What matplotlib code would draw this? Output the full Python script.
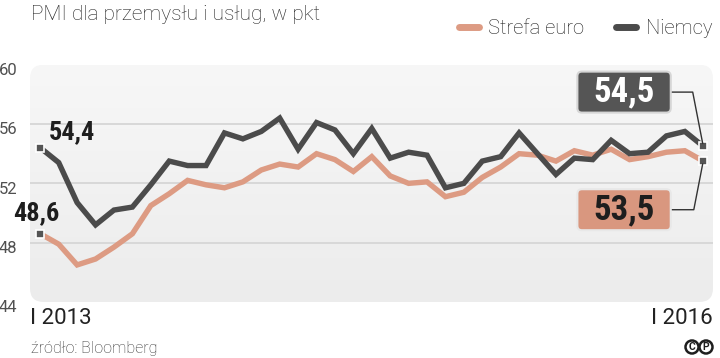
import numpy as np
import matplotlib
matplotlib.use("Agg")
import matplotlib.pyplot as plt
from matplotlib import font_manager as fm
from matplotlib.patches import FancyBboxPatch, Ellipse, BoxStyle
from matplotlib.lines import Line2D
from matplotlib.transforms import ScaledTranslation


# Data (monthly, I 2013 - I 2016)

months = np.arange(37)
niemcy = [54.4, 53.4, 50.7, 49.2, 50.2, 50.4, 51.9, 53.5, 53.2, 53.2,
          55.4, 55.0, 55.5, 56.4, 54.3, 56.1, 55.6, 54.0, 55.7, 53.7,
          54.1, 53.9, 51.7, 52.0, 53.5, 53.8, 55.4, 54.0, 52.6, 53.7,
          53.6, 54.9, 54.0, 54.1, 55.2, 55.5, 54.5]
strefa = [48.6, 47.9, 46.5, 46.9, 47.7, 48.6, 50.5, 51.3, 52.2, 51.9,
          51.7, 52.1, 52.9, 53.3, 53.1, 54.0, 53.6, 52.8, 53.8, 52.5,
          52.0, 52.1, 51.1, 51.4, 52.4, 53.1, 54.0, 53.9, 53.5, 54.2,
          53.9, 54.3, 53.6, 53.8, 54.1, 54.2, 53.5]
yticks = [44, 48, 52, 56, 60]
x_labels = ["I 2013", "I 2016"]


# Fonts

names = {f.name for f in fm.fontManager.ttflist}

def pick(*cands):
    for c in cands:
        if c in names:
            return c
    return "DejaVu Sans"

SANS = pick("Roboto", "Open Sans", "DejaVu Sans")
COND = pick("Roboto Condensed", "Liberation Sans Narrow", "DejaVu Sans")
STRETCH = "condensed" if COND == "DejaVu Sans" else "normal"

DARK = "#4b4b4b"
SALMON = "#dd9b83"


def wide_box(x0, y0, width, height, mutation_size):
    # rounded box with more padding left/right than top/bottom
    px, py = 16, 4
    return BoxStyle.Round(pad=0, rounding_size=0.13)(x0 - px, y0 - py, width + 2 * px,
                                                     height + 2 * py, mutation_size)


# Figure

W, H = 720, 358
fig = plt.figure(figsize=(W / 100, H / 100), dpi=100)
ax = fig.add_axes([30 / W, 1 - 302 / H, 683 / W, (302 - 64.7) / H])
ax.set_facecolor("none")
for s in ax.spines.values():
    s.set_visible(False)

ax.set_xlim(-0.56, 36.53)
ax.set_ylim(44, 60)

# rounded panel with soft gradient
panel = FancyBboxPatch((0, 0), 1, 1, boxstyle="round,pad=0,rounding_size=0.02",
                       mutation_aspect=683 / 237, transform=ax.transAxes,
                       facecolor="none", edgecolor="none")
ax.add_patch(panel)
grad = np.linspace(0, 1, 256).reshape(-1, 1)
img = ax.imshow(grad, cmap=matplotlib.colors.LinearSegmentedColormap.from_list("g", ["#f7f7f7", "#ececec"]),
                extent=(0, 1, 0, 1), transform=ax.transAxes, aspect="auto", zorder=0, origin="upper")
img.set_clip_path(panel)

for y in yticks[1:-1]:
    ax.axhline(y, color="#d8d8d8", lw=1.4, zorder=1)

ax.plot(months, strefa, color=SALMON, lw=3.9, zorder=3, solid_joinstyle="miter")
ax.plot(months, niemcy, color=DARK, lw=3.9, zorder=4, solid_joinstyle="miter")

ends = [0, 36]
ax.plot(ends, [niemcy[i] for i in ends], ls="none", marker="s", ms=5.5,
        mfc="#555555", mec="white", mew=1.2, zorder=6)
ax.plot(ends, [strefa[i] for i in ends], ls="none", marker="s", ms=5.5,
        mfc="#555555", mec="white", mew=1.2, zorder=6)

# axis ticks
ax.set_xticks([])
ax.set_yticks(yticks)
ax.set_yticklabels([str(v) for v in yticks], fontsize=12, color="#505050",
                   family=SANS, fontweight="normal")
ax.tick_params(axis="y", length=0, pad=9)
for lab in ax.get_yticklabels():
    lab.set_transform(lab.get_transform() + ScaledTranslation(0, -3 / 72, fig.dpi_scale_trans))

ax.text(0, -0.025, x_labels[0], transform=ax.transAxes, ha="left", va="top",
        fontsize=16, color="#222222", family=SANS)
ax.text(1, -0.025, x_labels[1], transform=ax.transAxes, ha="right", va="top",
        fontsize=16, color="#222222", family=SANS)

# start values
def fmt(v):
    return f"{v:.1f}".replace(".", ",")

ax.annotate(fmt(niemcy[0]), xy=(0, niemcy[0]), xytext=(23, 11), textcoords="offset points",
            ha="center", va="center", fontsize=19, fontweight="bold", color="#1e1e1e",
            family=COND, fontstretch=STRETCH, zorder=7)
ax.annotate(fmt(strefa[0]), xy=(0, strefa[0]), xytext=(-3, 15), textcoords="offset points",
            ha="center", va="center", fontsize=19, fontweight="bold", color="#1e1e1e",
            family=COND, fontstretch=STRETCH, zorder=7)

# end values in boxes
ax.annotate(fmt(niemcy[-1]), xy=(36, niemcy[-1]), xytext=(-57, 39), textcoords="offset points",
            ha="center", va="center", fontsize=25, fontweight="bold", color="white",
            family=COND, fontstretch=STRETCH, zorder=7,
            bbox=dict(boxstyle=wide_box, fc="#555555", ec="#d6d6d6", lw=1.5),
            arrowprops=dict(arrowstyle="-", color="#333333", lw=1, shrinkA=0, shrinkB=2,
                            relpos=(1, 0.5), connectionstyle="angle,angleA=0,angleB=101,rad=0"))
ax.annotate(fmt(strefa[-1]), xy=(36, strefa[-1]), xytext=(-57, -35), textcoords="offset points",
            ha="center", va="center", fontsize=25, fontweight="bold", color="#1e1e1e",
            family=COND, fontstretch=STRETCH, zorder=7,
            bbox=dict(boxstyle=wide_box, fc="#d9977f", ec="#e8e8e8", lw=1.5),
            arrowprops=dict(arrowstyle="-", color="#333333", lw=1, shrinkA=0, shrinkB=2,
                            relpos=(1, 0.5), connectionstyle="angle,angleA=0,angleB=-101,rad=0"))

# title, legend, source
fig.text(31 / W, 1 - 15 / H, "PMI dla przemysłu i usług, w pkt", ha="left", va="center",
         fontsize=15, color="#222222", family=SANS, fontweight="light")

handles = [Line2D([], [], color=SALMON, lw=5, solid_capstyle="round"),
           Line2D([], [], color=DARK, lw=5, solid_capstyle="round")]
fig.legend(handles, ["Strefa euro", "Niemcy"], loc="center right",
           bbox_to_anchor=(712 / W, 1 - 29 / H), ncol=2, frameon=False,
           handlelength=1.0, handletextpad=0.45, columnspacing=1.6,
           borderaxespad=0, borderpad=0, prop=dict(family=SANS, size=14.5, weight="light"))
for t in fig.legends[0].get_texts():
    t.set_color("#1e1e1e")

fig.text(31 / W, 1 - 348 / H, "źródło: Bloomberg", ha="left", va="center",
         fontsize=11.5, color="#333333", family=SANS, fontweight="light")

# copyright marks
for cx, ch in [(692, "C"), (706, "P")]:
    fig.patches.append(Ellipse((cx / W, 1 - 347 / H), 13 / W, 13 / H, transform=fig.transFigure,
                               fc="white", ec="#1e1e1e", lw=1.8))
    fig.text(cx / W, 1 - 347 / H, ch, ha="center", va="center", fontsize=7.5,
             fontweight="bold", color="#1e1e1e", family=SANS)

fig.savefig("out.png", dpi=100)
